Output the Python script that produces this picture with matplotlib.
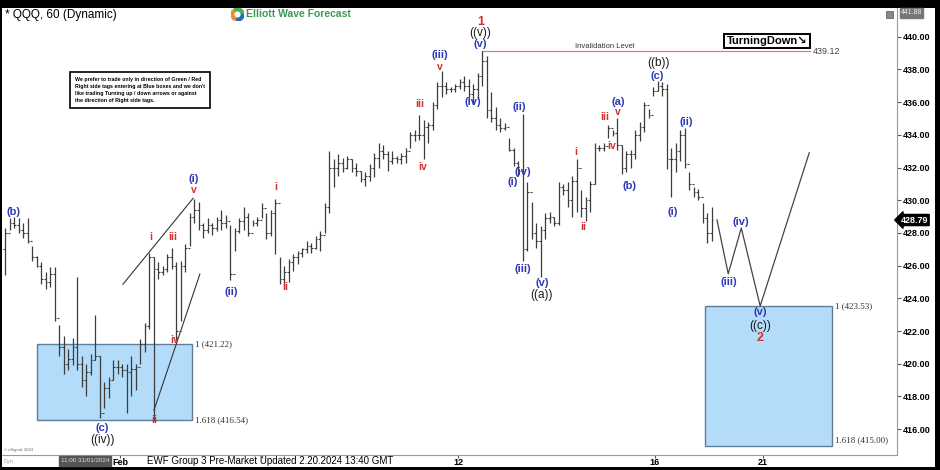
import numpy as np
import matplotlib.pyplot as plt
from matplotlib.patches import Rectangle, Wedge
import matplotlib.transforms as mtransforms

plt.rcParams['font.family'] = ['Liberation Sans', 'DejaVu Sans']

# hourly bars, QQQ (price)
highs = [428.3, 428.9, 429.0, 428.9, 428.6, 428.9, 427.2, 426.6, 426.2, 425.6,
         425.9, 425.9, 422.4, 421.7, 420.9, 421.6, 425.3, 420.5, 420.0, 420.6,
         423.0, 420.5, 418.9, 419.2, 420.2, 420.2, 420.0, 420.0, 420.5, 420.0,
         421.5, 422.5, 426.8, 426.5, 426.2, 426.0, 426.7, 427.1, 426.2, 426.3,
         427.3, 429.2, 430.1, 429.9, 428.6, 428.9, 428.6, 429.0, 429.4, 429.1,
         428.5, 428.3, 428.9, 429.6, 429.2, 428.8, 429.0, 429.8, 429.2, 429.4,
         430.1, 426.5, 426.0, 426.4, 426.7, 426.9, 427.1, 427.5, 427.4, 427.8,
         428.1, 429.8, 433.0, 432.5, 432.8, 432.6, 432.7, 432.5, 432.3, 431.8,
         431.7, 432.2, 432.9, 433.5, 433.4, 433.0, 433.0, 432.7, 432.9, 433.2,
         434.2, 434.3, 435.2, 434.9, 434.8, 436.0, 437.2, 437.9, 437.2, 436.9,
         437.1, 437.4, 437.6, 437.4, 437.1, 437.8, 439.1, 438.8, 436.6, 435.7,
         435.0, 434.7, 433.8, 433.2, 432.4, 435.3, 431.1, 429.9, 428.6, 428.4,
         429.2, 429.3, 429.0, 431.1, 431.0, 431.1, 431.5, 432.5, 430.6, 430.2,
         431.2, 433.5, 433.4, 433.5, 434.6, 434.3, 435.0, 433.4, 433.0, 433.1,
         434.3, 434.8, 436.0, 435.6, 436.9, 437.3, 437.2, 437.1, 433.2, 433.5,
         434.3, 434.4, 431.7, 430.8, 430.7, 429.8, 429.2, 429.6]
lows = [425.4, 428.2, 428.3, 428.0, 427.7, 427.4, 426.3, 425.9, 424.9, 424.6,
        424.7, 422.6, 420.5, 419.4, 419.6, 419.9, 419.6, 418.6, 418.0, 419.3,
        420.2, 416.7, 417.3, 417.9, 419.0, 419.4, 419.2, 417.0, 418.0, 418.4,
        420.0, 420.7, 422.1, 416.5, 425.2, 425.4, 425.6, 425.8, 421.4, 422.6,
        425.6, 427.2, 428.6, 428.2, 427.7, 428.0, 427.9, 428.1, 428.2, 428.3,
        425.1, 426.9, 428.0, 428.2, 427.8, 428.4, 428.4, 428.9, 427.6, 427.8,
        426.7, 424.9, 424.8, 425.0, 425.7, 426.1, 426.5, 426.8, 426.8, 427.0,
        426.9, 428.0, 429.2, 430.8, 431.5, 431.7, 431.9, 431.7, 431.5, 431.1,
        430.9, 431.2, 431.4, 432.0, 432.5, 431.8, 432.2, 432.3, 432.2, 432.3,
        433.2, 433.6, 433.7, 432.5, 433.5, 434.3, 435.6, 436.3, 436.5, 436.6,
        436.6, 436.8, 436.7, 436.2, 435.9, 436.2, 437.0, 435.0, 434.8, 434.3,
        434.2, 434.3, 433.0, 432.1, 431.5, 426.3, 426.9, 427.6, 427.1, 425.3,
        427.6, 428.6, 428.4, 428.5, 430.3, 429.6, 429.0, 429.3, 429.0, 428.7,
        429.3, 431.0, 433.0, 433.0, 433.8, 433.9, 433.1, 431.6, 431.7, 432.0,
        432.5, 433.6, 434.2, 435.0, 436.4, 436.7, 436.4, 431.9, 430.2, 431.7,
        432.4, 432.0, 430.6, 430.2, 430.0, 428.6, 427.4, 427.5]
closes = [428.0, 428.6, 428.5, 428.2, 428.0, 427.5, 426.5, 426.0, 425.2, 425.0,
          425.5, 422.8, 421.0, 420.0, 420.3, 421.0, 420.0, 419.0, 419.5, 420.2,
          420.5, 417.0, 418.5, 419.0, 419.8, 419.8, 419.6, 419.5, 419.7, 419.8,
          421.2, 422.3, 426.5, 425.8, 425.6, 425.8, 426.5, 426.0, 422.0, 426.0,
          427.1, 429.0, 429.4, 428.5, 428.2, 428.5, 428.3, 428.8, 428.6, 428.7,
          425.5, 428.1, 428.7, 429.0, 428.0, 428.6, 428.8, 429.5, 428.0, 429.2,
          429.8, 425.2, 425.6, 426.2, 426.5, 426.8, 427.0, 427.2, 427.1, 427.6,
          427.9, 429.6, 432.0, 432.0, 432.3, 432.0, 432.5, 432.0, 431.8, 431.3,
          431.5, 432.0, 432.6, 433.0, 432.8, 432.4, 432.6, 432.5, 432.7, 433.0,
          434.0, 434.0, 434.0, 434.5, 434.6, 435.8, 437.0, 437.0, 436.8, 436.8,
          437.0, 437.2, 437.0, 436.5, 436.8, 437.6, 438.5, 435.5, 435.0, 434.6,
          434.4, 434.5, 433.1, 432.3, 431.8, 427.0, 430.5, 428.0, 427.5, 428.2,
          428.9, 429.0, 428.6, 430.8, 430.6, 430.0, 431.2, 432.0, 429.5, 430.0,
          431.0, 433.2, 433.2, 433.3, 434.4, 434.1, 433.4, 432.0, 432.8, 432.8,
          434.0, 434.5, 435.8, 435.2, 436.7, 437.0, 436.8, 432.5, 432.5, 433.0,
          434.0, 432.2, 431.0, 430.5, 430.2, 428.9, 428.0, 428.79]
first_open = 427.0
last_price = 428.79
top_price = 441.88

# blue boxes (bar range, price range)
box1_bars = [7.1, 41.6]
box1_prices = [421.22, 416.54]
box2_bars = [155.6, 183.8]
box2_prices = [423.53, 415.00]

invalidation = 439.12
inval_bars = [106, 178.9]

# projected path
proj_bars = [158.2, 160.7, 163.6, 167.8, 178.7]
proj_prices = [428.8, 425.5, 428.3, 423.53, 432.9]

# wedge lines
wedge_up_bars = [26.2, 41.8]
wedge_up_prices = [424.86, 430.12]
wedge_lo_bars = [33.1, 43.3]
wedge_lo_prices = [417.16, 425.48]

tick_bars = [25.6, 57.1, 100.7, 144.4, 168.4]
tick_labels = ['Feb', '', '12', '16', '21']

BLUE = '#2f39b8'
RED = '#d03232'
BLK = '#1a1a1a'
wave_labels = [
    ('(b)', 1.8, 429.28, 'b'), ('(c)', 21.6, 416.07, 'b'), ('((iv))', 21.6, 415.35, 'k'),
    ('i', 32.4, 427.75, 'r'), ('ii', 33.1, 416.56, 'r'), ('iii', 37.3, 427.75, 'r'),
    ('iv', 37.8, 421.45, 'r'), ('v', 42.0, 430.62, 'r'), ('(i)', 42.0, 431.30, 'b'),
    ('(ii)', 50.2, 424.39, 'b'), ('i', 60.2, 430.81, 'r'), ('ii', 62.2, 424.69, 'r'),
    ('iii', 92.2, 435.88, 'r'), ('iv', 92.7, 432.03, 'r'), ('(iii)', 96.7, 438.88, 'b'),
    ('v', 96.7, 438.15, 'r'), ('(iv)', 104.0, 436.01, 'b'), ('1', 105.6, 440.9, 'r1'),
    ('((v))', 105.6, 440.25, 'k'), ('(v)', 105.6, 439.55, 'b'), ('(ii)', 114.2, 435.70, 'b'),
    ('(i)', 112.9, 431.11, 'b'), ('(iv)', 115.1, 431.72, 'b'), ('(iii)', 115.1, 425.79, 'b'),
    ('(v)', 119.3, 424.93, 'b'), ('((a))', 119.3, 424.20, 'k'), ('i', 126.9, 432.95, 'r'),
    ('ii', 128.4, 428.36, 'r'), ('iii', 133.3, 435.09, 'r'), ('iv', 134.7, 433.31, 'r'),
    ('(a)', 136.2, 436.01, 'b'), ('v', 136.2, 435.39, 'r'), ('(b)', 138.7, 430.87, 'b'),
    ('((b))', 145.1, 438.39, 'k'), ('(c)', 144.9, 437.60, 'b'), ('(i)', 148.4, 429.28, 'b'),
    ('(ii)', 151.3, 434.78, 'b'), ('(iv)', 163.6, 428.67, 'b'), ('(iii)', 160.9, 425.0, 'b'),
    ('(v)', 167.8, 423.16, 'b'), ('((c))', 167.8, 422.31, 'k'), ('2', 167.8, 421.55, 'r1'),
]

W, H = 940, 470
fig = plt.figure(figsize=(9.4, 4.7), dpi=100, facecolor='black')
fig.patches.append(Rectangle((2 / W, 1 - 467 / H), 933 / W, 459 / H, transform=fig.transFigure,
                             facecolor='white', edgecolor='none', zorder=-5))
ax = fig.add_axes([2 / W, 1 - 455 / H, 895 / W, 447 / H])
ax.set_xlim(-0.667, 198.2)
ax.set_ylim(414.42, 441.755)
ax.set_facecolor('white')

x = np.arange(len(highs))
opens = [first_open] + closes[:-1]
ax.vlines(x, lows, highs, color='#3c3c3c', lw=0.9, zorder=3)
ax.hlines(opens, x - 0.38, x, color='#3c3c3c', lw=0.8, zorder=3)
ax.hlines(closes, x, x + 0.38, color='#3c3c3c', lw=0.8, zorder=3)

for bars, prices in [(box1_bars, box1_prices), (box2_bars, box2_prices)]:
    ax.add_patch(Rectangle((bars[0], prices[1]), bars[1] - bars[0], prices[0] - prices[1],
                           facecolor='#b2dcfa', edgecolor='#5f7d96', lw=1.0, zorder=1))

ax.text(box1_bars[1] + 0.6, box1_prices[0], '1 (421.22)', fontsize=6.5, family='Liberation Serif',
        color='#333', va='center')
ax.text(box1_bars[1] + 0.6, box1_prices[1], '1.618 (416.54)', fontsize=6.5, family='Liberation Serif',
        color='#333', va='center')
ax.text(box2_bars[1] + 0.6, box2_prices[0], '1 (423.53)', fontsize=6.5, family='Liberation Serif',
        color='#333', va='center')
ax.text(box2_bars[1] + 0.6, box2_prices[1] + 0.3, '1.618 (415.00)', fontsize=6.5, family='Liberation Serif',
        color='#333', va='center')

ax.plot(inval_bars, [invalidation] * 2, color='#e07a7a', lw=0.9, zorder=2)
ax.text(133.3, invalidation + 0.08, 'Invalidation Level', fontsize=5.5, color='#333',
        ha='center', va='bottom')
ax.text(inval_bars[1] + 0.7, invalidation, '439.12', fontsize=6.5, color='#444', va='center')

ax.plot(proj_bars, proj_prices, color='#444', lw=0.9, zorder=3)
ax.plot(wedge_up_bars, wedge_up_prices, color='#333', lw=0.8, zorder=3)
ax.plot(wedge_lo_bars, wedge_lo_prices, color='#333', lw=0.8, zorder=3)

styles = {'b': (BLUE, 8, 'bold'), 'r': (RED, 7.5, 'bold'), 'k': (BLK, 8.5, 'normal'),
          'r1': (RED, 9, 'bold')}
for txt, bx, py, st in wave_labels:
    c, fs, fw = styles[st]
    ax.text(bx, py, txt, color=c, fontsize=fs, fontweight=fw, ha='center', va='center', zorder=5)

ax.text(169.3, 439.74, 'TurningDown\u2198', fontsize=8, fontweight='bold', color='black',
        ha='center', va='center', zorder=6,
        bbox=dict(boxstyle='square,pad=0.22', fc='white', ec='black', lw=1.4))

for s in ['left', 'top']:
    ax.spines[s].set_visible(False)
for s in ['right', 'bottom']:
    ax.spines[s].set_color('#999')
    ax.spines[s].set_linewidth(0.8)

ax.yaxis.tick_right()
yt = np.arange(416, 441, 2)
ax.set_yticks(yt)
ax.set_yticklabels(['%.2f' % v for v in yt], fontsize=6.5, fontweight='bold')
ax.tick_params(axis='y', length=3, pad=1, color='#555')
ax.set_xticks(tick_bars)
ax.set_xticklabels(tick_labels, fontsize=6.5, fontweight='bold')
ax.tick_params(axis='x', length=2, pad=0.5, color='#555')

tr = mtransforms.blended_transform_factory(ax.transAxes, ax.transData)
ax.text(1.004, last_price, '%.2f' % last_price, transform=tr, fontsize=6.5, fontweight='bold',
        color='white', va='center', ha='left', clip_on=False,
        bbox=dict(boxstyle='larrow,pad=0.12', fc='black', ec='black'))
ax.text(1.004, 441.45, '%.2f' % top_price, transform=tr, fontsize=5, color='#eee',
        va='center', ha='left', clip_on=False,
        bbox=dict(boxstyle='square,pad=0.15', fc='#777', ec='#777'))

# header
fig.text(5 / W, 1 - 15 / H, '* QQQ, 60 (Dynamic)', fontsize=8.5, color='black', va='center')
fig.text(246 / W, 1 - 14 / H, 'Elliott Wave Forecast', fontsize=7.5, fontweight='bold',
         color='#3a9a55', va='center')
lax = fig.add_axes([231 / W, 1 - 21 / H, 13 / W, 13 / H])
lax.set_xlim(-1, 1)
lax.set_ylim(-1, 1)
lax.set_aspect('equal')
lax.axis('off')
for t1, t2, col in [(20, 140, '#4caf50'), (140, 260, '#f28c28'), (260, 380, '#1f6fb5')]:
    lax.add_patch(Wedge((0, 0), 1, t1, t2 - 15, width=0.42, color=col))
fig.patches.append(Rectangle((886 / W, 1 - 18 / H), 7 / W, 7 / H, transform=fig.transFigure,
                             facecolor='#888', edgecolor='#555', lw=0.5, zorder=5))

note = ("We prefer to trade only in direction of Green / Red\n"
        "Right side tags entering at Blue boxes and we don't\n"
        "like trading Turning up / down arrows or against\n"
        "the direction of Right side tags.")
fig.text(75 / W, 1 - 90 / H, note, fontsize=3.8, fontweight='bold', va='center', ha='left',
         linespacing=1.55,
         bbox=dict(boxstyle='square,pad=0.9', fc='white', ec='black', lw=1.2))

# footer
fig.text(270 / W, 1 - 461 / H, 'EWF Group 3 Pre-Market Updated 2.20.2024 13:40 GMT', fontsize=7,
         ha='center', va='center', color='black')
fig.text(85 / W, 1 - 461 / H, '11:00 31/01/2024', fontsize=4.5, color='#ddd', ha='center',
         va='center', bbox=dict(boxstyle='square,pad=0.35', fc='#555', ec='#555'))
fig.text(4 / W, 1 - 450 / H, '\u00a9 eSignal, 2024', fontsize=3, color='#666', va='center')
fig.text(4 / W, 1 - 461 / H, 'Dyn', fontsize=4, color='#999', va='center')

fig.savefig('out.png', dpi=100, facecolor='black')
